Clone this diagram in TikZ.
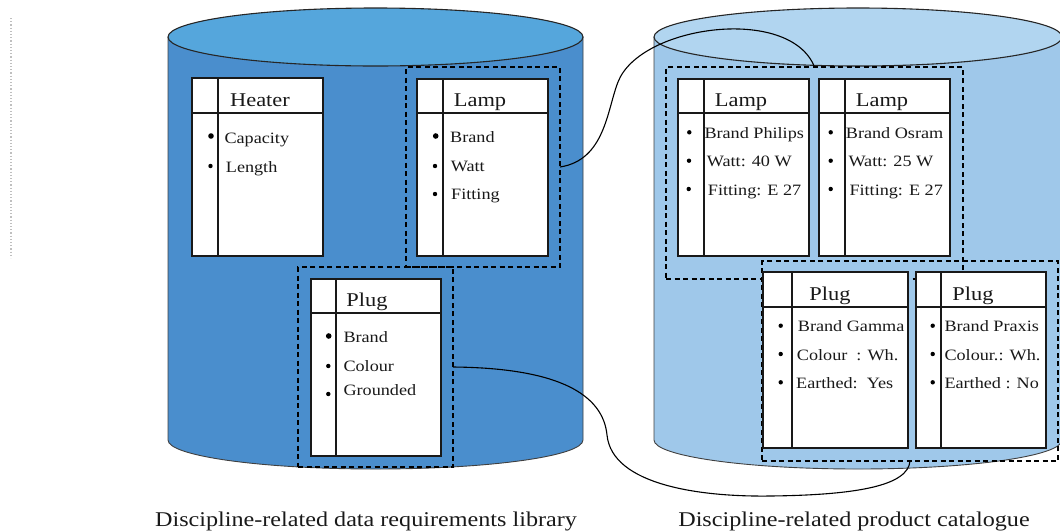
\documentclass[tikz,border=0pt]{standalone}
\usepackage{fontspec}
\setmainfont{Liberation Serif}[FakeStretch=1.15]
\definecolor{topL}{HTML}{55A6DC}
\definecolor{bodyL}{HTML}{4A8ECD}
\definecolor{topR}{HTML}{B1D5F0}
\definecolor{bodyR}{HTML}{9FC8EA}
\begin{document}
\begin{tikzpicture}[x=1pt,y=1pt,yscale=-1,
  cylside/.style={draw=black!75, line width=0.9pt},
  cyltop/.style={draw=black!85, line width=1.1pt},
  grp/.style={draw=black, line width=1.4pt, dash pattern=on 5pt off 3.5pt, inner sep=0pt, outer sep=0pt, fill=none},
  tbl/.style={draw=black!90, line width=1.4pt, fill=white},
  tline/.style={draw=black!90, line width=1.4pt},
  ttl/.style={anchor=base, inner sep=0pt, text=black!90, font=\fontsize{19.5}{23}\selectfont},
  itm/.style={anchor=base west, inner sep=0pt, text=black!90, font=\fontsize{15.8}{19}\selectfont},
  captxt/.style={anchor=base, inner sep=0pt, text=black!90, font=\fontsize{21}{25}\selectfont},
  bul/.style={fill=black},
  conn/.style={draw=black, line width=1.1pt},
  faint/.style={draw=black!25, line width=1.2pt, dotted}
]
\useasboundingbox (0,0) rectangle (1060,531);

% faint dotted mark at the far left
\draw[faint] (11,18) -- (11,258);

% left cylinder
\path[fill=bodyL, cylside] (168,37) -- (168,440) arc[start angle=180, end angle=0, x radius=207.5, y radius=29] -- (583,37);
\path[fill=topL, cyltop] (375.5,37) ellipse[x radius=207.5, y radius=29];

% right cylinder
\path[fill=bodyR, cylside] (654,37) -- (654,440) arc[start angle=180, end angle=0, x radius=204, y radius=29] -- (1062,37);
\path[fill=topR, cyltop] (858,37) ellipse[x radius=204, y radius=29];

% dashed groups
\node[grp, minimum width=154pt, minimum height=200pt] (gLampL) at (483,167) {};
\node[grp, minimum width=155pt, minimum height=200pt] (gPlugL) at (375.5,367) {};
\node[grp, minimum width=297pt, minimum height=212pt] (gLampR) at (814.5,173) {};
\node[grp, minimum width=296pt, minimum height=200pt] (gPlugR) at (910,361) {};

% ---- tables ----
% Heater
\path[tbl] (192,78) rectangle (323,256);
\draw[tline] (218,78) -- (218,256);
\draw[tline] (192,113) -- (323,113);
\node[ttl] (tHeater) at (260,106) {Heater};
\fill[bul] (211,136) circle (2.8);
\fill[bul] (210.5,166) circle (2.2);
\node[itm] (hCap) at (224.3,143) {Capacity};
\node[itm] (hLen) at (225.7,172) {Length};

% Lamp (library)
\path[tbl] (417,79) rectangle (548,256);
\draw[tline] (443,79) -- (443,256);
\draw[tline] (417,113) -- (548,113);
\node[ttl] (tLampL) at (480,106) {Lamp};
\fill[bul] (435.7,136) circle (2.8);
\fill[bul] (435,166) circle (2.2);
\fill[bul] (435,194) circle (2.2);
\node[itm] (lB) at (450,142.7) {Brand};
\node[itm] (lW) at (450.7,171.7) {Watt};
\node[itm] (lF) at (451,199.3) {Fitting};

% Plug (library)
\path[tbl] (311,279) rectangle (441,456);
\draw[tline] (336,279) -- (336,456);
\draw[tline] (311,313) -- (441,313);
\node[ttl] (tPlugL) at (367,306) {Plug};
\fill[bul] (328.7,336) circle (2.8);
\fill[bul] (328.3,366) circle (2.2);
\fill[bul] (328.3,394) circle (2.2);
\node[itm] (pB) at (343.3,342.7) {Brand};
\node[itm] (pC) at (343.3,371) {Colour};
\node[itm] (pG) at (343.3,395.7) {Grounded};

% Lamp Philips
\path[tbl] (678,79) rectangle (809,256);
\draw[tline] (704,79) -- (704,256);
\draw[tline] (678,113) -- (809,113);
\node[ttl] (tLampR1) at (741,106) {Lamp};
\fill[bul] (689.3,132.3) circle (2.2);
\fill[bul] (689,160.7) circle (2.2);
\fill[bul] (688.7,189) circle (2.2);
\node[itm] (r1B) at (704.3,138.7) {Brand Philips};
\node[itm] (r1W) at (706.7,166.7) {Watt: 40 W};
\node[itm] (r1F) at (707.7,195) {Fitting: E 27};

% Lamp Osram
\path[tbl] (819,79) rectangle (950,256);
\draw[tline] (845,79) -- (845,256);
\draw[tline] (819,113) -- (950,113);
\node[ttl] (tLampR2) at (882,106) {Lamp};
\fill[bul] (830.7,132.3) circle (2.2);
\fill[bul] (830.7,160.7) circle (2.2);
\fill[bul] (830.7,189) circle (2.2);
\node[itm] (r2B) at (845.7,138.7) {Brand Osram};
\node[itm] (r2W) at (848.3,166.7) {Watt: 25 W};
\node[itm] (r2F) at (849.3,195) {Fitting: E 27};

% Plug Gamma
\path[tbl] (763,272) rectangle (908,448);
\draw[tline] (792,272) -- (792,448);
\draw[tline] (763,307) -- (908,307);
\node[ttl] (tPlugR1) at (830,300) {Plug};
\fill[bul] (780.7,325.7) circle (2.2);
\fill[bul] (780.7,354) circle (2.2);
\fill[bul] (780.7,382.3) circle (2.2);
\node[itm] (q1B) at (797.7,331.7) {Brand Gamma};
\node[itm] (q1C) at (796.7,360) {Colour\ \ : Wh.};
\node[itm] (q1E) at (796,388.3) {Earthed:\ \ Yes};

% Plug Praxis
\path[tbl] (916,272) rectangle (1046,448);
\draw[tline] (941,272) -- (941,448);
\draw[tline] (916,307) -- (1046,307);
\node[ttl] (tPlugR2) at (973,300) {Plug};
\fill[bul] (932.7,325.7) circle (2.2);
\fill[bul] (932.7,354) circle (2.2);
\fill[bul] (932.7,382.3) circle (2.2);
\node[itm] (q2B) at (944.3,331.7) {Brand Praxis};
\node[itm] (q2C) at (944.3,360) {Colour.: Wh.};
\node[itm] (q2E) at (944.3,388.3) {Earthed : No};

% connectors
\draw[conn] (gLampL.east) .. controls (605,160) and (607,110) .. (618,82)
            .. controls (640,25) and (790,5) .. (gLampR.north);
\draw[conn] (gPlugL.east) .. controls (560,368) and (603,395) .. (607,435)
            .. controls (612,485) and (700,497) .. (770,496)
            .. controls (860,495) and (908,485) .. (gPlugR.south);

% captions
\node[captxt] (capL) at (366,526) {Discipline-related data requirements library};
\node[captxt] (capR) at (854,526) {Discipline-related product catalogue};
\end{tikzpicture}
\end{document}
